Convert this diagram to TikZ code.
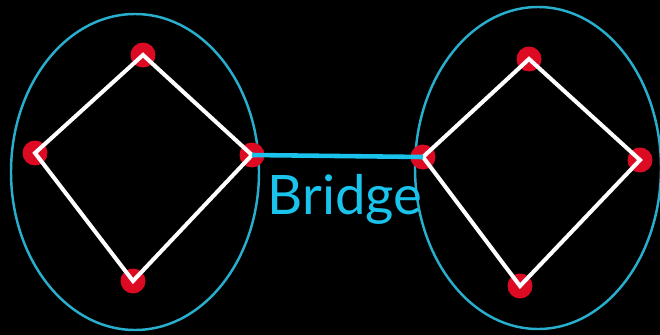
\documentclass[tikz,border=0pt]{standalone}
\usepackage{fontspec}
\setsansfont{Lato}
\usepackage{xcolor}
\usepackage{tikz}
\usetikzlibrary{positioning}
\definecolor{blobcyan}{RGB}{40,175,205}
\definecolor{brgcyan}{RGB}{25,195,235}
\definecolor{dotred}{RGB}{220,10,35}
\tikzset{
  vtx/.style   = {circle, fill=dotred, inner sep=0pt, minimum size=0.5cm},
  edge/.style  = {draw=white, line width=2.3pt},
  blob/.style  = {draw=blobcyan, line width=1.4pt},
  brg/.style   = {draw=brgcyan, line width=2.6pt},
  lbl/.style   = {text=brgcyan, font=\sffamily\fontsize{31}{31}\selectfont},
}
\begin{document}
\begin{tikzpicture}[x=0.02cm, y=-0.02cm]
  \fill[black] (0,0) rectangle (660,335);
  \useasboundingbox (0,0) rectangle (660,335);
  % components
  \draw[blob] (135,172) ellipse [x radius=124, y radius=158];
  \draw[blob] (538,168) ellipse [x radius=123, y radius=161];
  % left cycle
  \node[vtx] (a1) at (143,55)  {};
  \node[vtx] (a2) at (35,153)  {};
  \node[vtx] (a3) at (133,281) {};
  \node[vtx] (a4) at (252,155) {};
  % right cycle
  \node[vtx] (b1) at (529,59)  {};
  \node[vtx] (b2) at (423,157) {};
  \node[vtx] (b3) at (520,286) {};
  \node[vtx] (b4) at (640,160) {};
  \draw[edge] (a1.center) -- (a2.center) -- (a3.center) -- (a4.center) -- cycle;
  \draw[edge] (b1.center) -- (b2.center) -- (b3.center) -- (b4.center) -- cycle;
  % the bridge
  \draw[brg] (a4.center) -- (b2.center);
  \node[lbl, anchor=base] (bl) at (345,214) {Bridge};
\end{tikzpicture}
\end{document}
